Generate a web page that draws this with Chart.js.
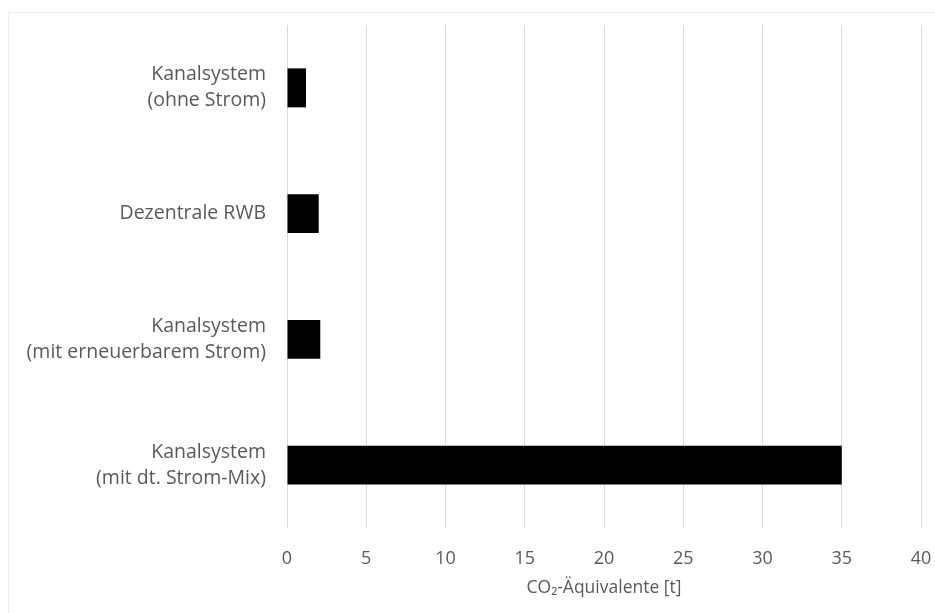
<!DOCTYPE html>
<html>
<head>
<meta charset="utf-8">
<script src="https://cdn.jsdelivr.net/npm/chart.js@4.4.0/dist/chart.umd.min.js"></script>
<style>
  body { margin: 0; background: #fff; }
  #frame { position: absolute; left: 8px; top: 12px; width: 940px; height: 620px;
           border-top: 1px solid #ebebeb; border-left: 1px solid #ebebeb; }
  #myChart { position: absolute; left: 0; top: 0; }
</style>
</head>
<body>
<div id="frame"></div>
<canvas id="myChart" width="935" height="613"></canvas>
<script>
// Kategorien und Werte (t CO2-Äquivalente)
var kategorien = [
    ['Kanalsystem', '(ohne Strom)'],
    'Dezentrale RWB',
    ['Kanalsystem', '(mit erneuerbarem Strom)'],
    ['Kanalsystem', '(mit dt. Strom-Mix)']
];
var werte = [1.2, 2.0, 2.1, 35.0];
var achsenTitel = 'CO\u2082-Äquivalente [t]';
var xMin = 0, xMax = 40, xSchritt = 5;

var grau = '#595959';
var familie = "'Open Sans', sans-serif";

const data = {
    labels: kategorien,
    datasets: [{
        data: werte,
        backgroundColor: '#000000',
        borderWidth: 0,
        barPercentage: 0.31,
        categoryPercentage: 1
    }]
};

const config = {
    type: 'bar',
    data: data,
    options: {
        indexAxis: 'y',
        responsive: false,
        animation: false,
        layout: { padding: { top: 25, right: 14, left: 0, bottom: 0 } },
        plugins: {
            legend: { display: false },
            tooltip: { enabled: false }
        },
        scales: {
            x: {
                min: xMin,
                max: xMax,
                ticks: { stepSize: xSchritt, color: grau, font: { family: familie, size: 18 }, padding: 20 },
                grid: { color: '#d9d9d9', drawTicks: false },
                border: { display: false },
                title: {
                    display: true,
                    text: achsenTitel,
                    color: grau,
                    font: { family: familie, size: 17.5 },
                    padding: { top: 0, bottom: 14 }
                },
                afterFit: function (scale) {
                    scale.height = 85;
                    scale.paddingLeft = 0;
                    scale.paddingRight = 0;
                }
            },
            y: {
                ticks: { color: grau, font: { family: familie, size: 19.5, lineHeight: 1.33 }, padding: 21 },
                grid: { display: false, drawTicks: false },
                border: { display: false },
                afterFit: function (scale) {
                    scale.width = 287;
                    scale.paddingTop = 0;
                    scale.paddingBottom = 0;
                }
            }
        }
    }
};

const myChart = new Chart(document.getElementById('myChart'), config);
</script>
</body>
</html>
